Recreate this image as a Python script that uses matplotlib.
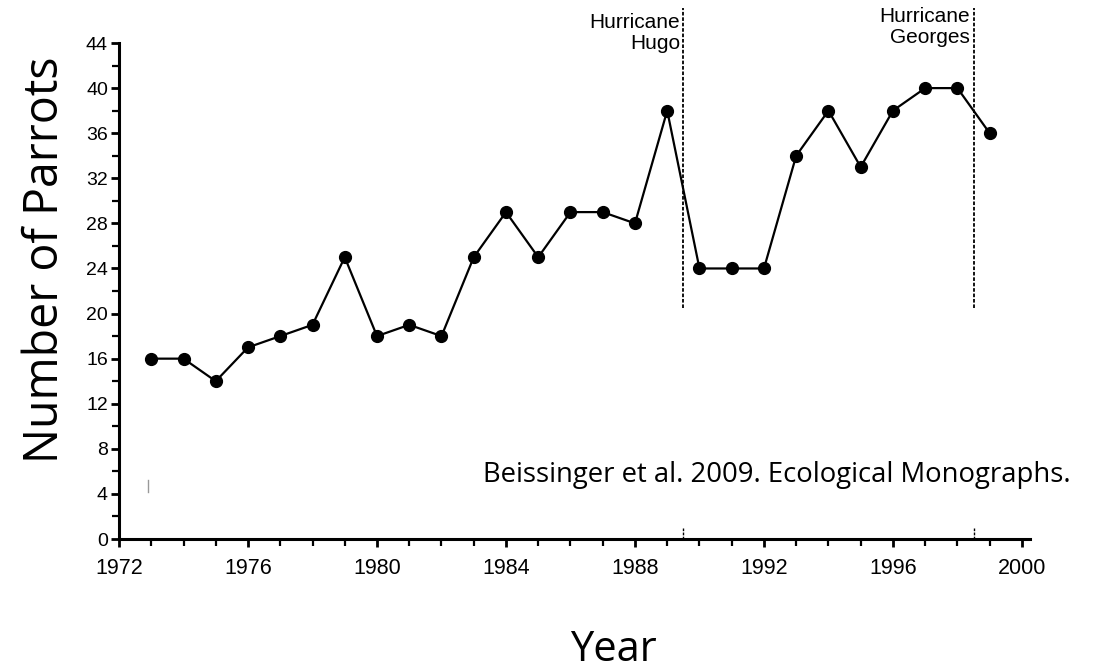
import matplotlib
matplotlib.use("Agg")
import matplotlib.pyplot as plt
from matplotlib.ticker import MultipleLocator

# parrot counts per year
years = [1973, 1974, 1975, 1976, 1977, 1978, 1979, 1980, 1981, 1982,
         1983, 1984, 1985, 1986, 1987, 1988, 1989, 1990, 1991, 1992,
         1993, 1994, 1995, 1996, 1997, 1998, 1999]
parrots = [16, 16, 14, 17, 18, 19, 25, 18, 19, 18,
           25, 29, 25, 29, 29, 28, 38, 24, 24, 24,
           34, 38, 33, 38, 40, 40, 36]

hurricane_years = [1989.5, 1998.5]
hurricane_names = ["Hurricane\nHugo", "Hurricane\nGeorges"]
x_ticks = [1972, 1976, 1980, 1984, 1988, 1992, 1996, 2000]
y_ticks = [0, 4, 8, 12, 16, 20, 24, 28, 32, 36, 40, 44]

sans = ["Liberation Sans", "DejaVu Sans"]
calib = ["Open Sans", "DejaVu Sans"]

fig = plt.figure(figsize=(10.99, 6.70), dpi=100)
ax = fig.add_axes([0.1083, 0.1955, 0.8289, 0.7403])

ax.plot(years, parrots, color="black", lw=1.6, marker="o", ms=8.5, zorder=3)

# dashed hurricane lines, they run past the top of the axes
for hx, name, ty in zip(hurricane_years, hurricane_names, [46.7, 47.2]):
    ax.plot([hx, hx], [20.5, 47.1], color="black", lw=1.3, ls=(0, (2, 1)),
            clip_on=False, zorder=2)
    ax.plot([hx, hx], [0, 1.0], color="black", lw=1.0, ls=(0, (2, 1)),
            clip_on=False, zorder=2)
    ax.text(hx - 0.1, ty, name, ha="right", va="top", fontsize=15,
            family=sans, linespacing=1.15)

# stray mark near the origin
ax.plot([1972.9, 1972.9], [4.2, 5.2], color="0.6", lw=1.0)

ax.set_xlim(1972, 2000.25)
ax.set_ylim(0, 44)
ax.set_xticks(x_ticks)
ax.set_yticks(y_ticks)
ax.xaxis.set_minor_locator(MultipleLocator(1))
ax.yaxis.set_minor_locator(MultipleLocator(2))

for s in ["top", "right"]:
    ax.spines[s].set_visible(False)
for s in ["left", "bottom"]:
    ax.spines[s].set_linewidth(2.2)

ax.tick_params(axis="both", which="major", direction="out", length=6, width=2)
ax.tick_params(axis="both", which="minor", direction="out", length=5, width=1.6)
ax.tick_params(axis="x", labelsize=15.5, pad=8)
ax.tick_params(axis="y", labelsize=14, pad=2)
for lab in ax.get_xticklabels() + ax.get_yticklabels():
    lab.set_family(sans)

fig.text(0.041, 0.612, "Number of Parrots", rotation=90, ha="center",
         va="center", fontsize=33.5, family=calib)
fig.text(0.558, 0.030, "Year", ha="center", va="center", fontsize=30,
         family=calib)
ax.text(1983.3, 5.7, "Beissinger et al. 2009. Ecological Monographs.",
        ha="left", va="center", fontsize=19.8, family=calib)

fig.savefig("out.png", dpi=100)
